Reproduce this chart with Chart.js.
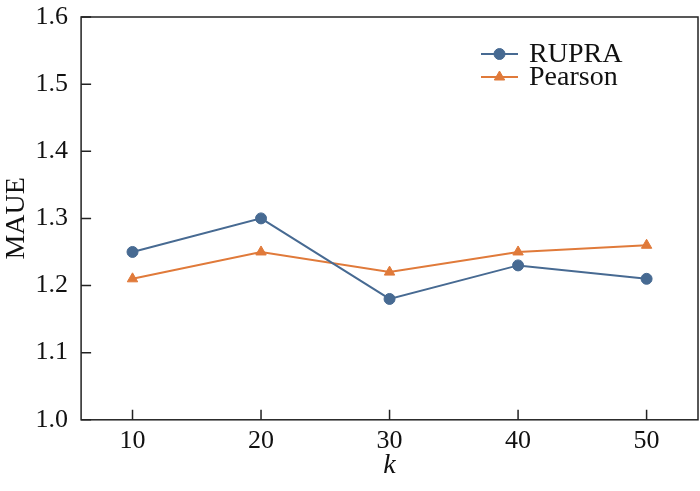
<!DOCTYPE html>
<html>
<head>
<meta charset="utf-8">
<script src="https://cdn.jsdelivr.net/npm/chart.js@4.4.1/dist/chart.umd.min.js"></script>
<style>
	html, body { margin: 0; padding: 0; background: #fff; }
	#wrap { width: 700px; height: 491px; }
</style>
</head>
<body>
<div id="wrap"><canvas id="chart"></canvas></div>
<script>
const kValues = [10, 20, 30, 40, 50];
const rupraValues = [1.25, 1.30, 1.18, 1.23, 1.21];
const pearsonValues = [1.21, 1.25, 1.22, 1.25, 1.26];
const yTicks = [1.0, 1.1, 1.2, 1.3, 1.4, 1.5, 1.6];

const BLUE = '#476a92';
const ORANGE = '#e07a3a';
const SERIF = "'Liberation Serif', 'Times New Roman', serif";

function toPoints (values) {
	return kValues.map((k, i) => ({ x: k, y: values[i] }));
}

// box round the plot and inward tick marks
const frame = {
	id: 'frame',
	afterDraw (chart) {
		const { ctx, chartArea: a, scales } = chart;
		ctx.save();
		ctx.strokeStyle = '#222';
		ctx.lineWidth = 1.5;
		ctx.strokeRect(a.left, a.top, a.right - a.left, a.bottom - a.top);
		ctx.beginPath();
		kValues.forEach(k => {
			const x = scales.x.getPixelForValue(k);
			ctx.moveTo(x, a.bottom);
			ctx.lineTo(x, a.bottom - 10);
		});
		yTicks.forEach(v => {
			const y = scales.y.getPixelForValue(v);
			ctx.moveTo(a.left, y);
			ctx.lineTo(a.left + 10, y);
		});
		ctx.stroke();
		ctx.restore();
	}
};

// legend inside the plot, upper right
const insideLegend = {
	id: 'insideLegend',
	afterDraw (chart) {
		const { ctx } = chart;
		const x0 = 481, x1 = 518, tx = 529;
		let y = 54;
		ctx.save();
		chart.data.datasets.forEach(ds => {
			ctx.strokeStyle = ds.borderColor;
			ctx.fillStyle = ds.backgroundColor;
			ctx.lineWidth = 2;
			ctx.beginPath();
			ctx.moveTo(x0, y);
			ctx.lineTo(x1, y);
			ctx.stroke();
			ctx.lineWidth = 1;
			Chart.helpers.drawPoint(ctx, {
				pointStyle: ds.pointStyle,
				radius: ds.pointRadius,
				borderWidth: 1
			}, (x0 + x1) / 2, y);
			ctx.fillStyle = '#111';
			ctx.font = `28px ${SERIF}`;
			ctx.textBaseline = 'middle';
			ctx.fillText(ds.label, tx, y + 1);
			y += 23;
		});
		ctx.restore();
	}
};

const config = {
	type: 'line',
	data: {
		datasets: [
			{
				label: 'RUPRA',
				data: toPoints(rupraValues),
				borderColor: BLUE,
				backgroundColor: BLUE,
				borderWidth: 2,
				pointStyle: 'circle',
				pointRadius: 5.5,
				pointBorderWidth: 1
			},
			{
				label: 'Pearson',
				data: toPoints(pearsonValues),
				borderColor: ORANGE,
				backgroundColor: ORANGE,
				borderWidth: 2,
				pointStyle: 'triangle',
				pointRadius: 6,
				pointBorderWidth: 1
			}
		]
	},
	options: {
		responsive: true,
		maintainAspectRatio: false,
		animation: false,
		layout: { padding: 0, autoPadding: false },
		plugins: {
			legend: { display: false },
			tooltip: { enabled: false }
		},
		scales: {
			x: {
				type: 'linear',
				min: 6,
				max: 54,
				afterBuildTicks: scale => {
					scale.ticks = kValues.map(v => ({ value: v }));
				},
				afterFit: scale => {
					scale.paddingLeft = 0;
					scale.paddingRight = 2;
				},
				grid: { display: false, drawTicks: false },
				border: { display: false },
				ticks: {
					color: '#111',
					padding: 6,
					font: { family: SERIF, size: 26 }
				},
				title: {
					display: true,
					text: 'k',
					color: '#111',
					padding: { top: -11, bottom: 11 },
					font: { family: SERIF, size: 28, style: 'italic', lineHeight: 1 }
				}
			},
			y: {
				min: 1.0,
				max: 1.6,
				afterBuildTicks: scale => {
					scale.ticks = yTicks.map(v => ({ value: v }));
				},
				afterFit: scale => {
					scale.paddingTop = 17;
					scale.paddingBottom = 0;
				},
				grid: { display: false, drawTicks: false },
				border: { display: false },
				ticks: {
					color: '#111',
					padding: 13,
					font: { family: SERIF, size: 26 },
					callback: v => v.toFixed(1)
				},
				title: {
					display: true,
					text: 'MAUE',
					color: '#111',
					padding: { top: 0, bottom: -11 },
					font: { family: SERIF, size: 28 }
				}
			}
		}
	},
	plugins: [frame, insideLegend]
};

new Chart(document.getElementById('chart'), config);
</script>
</body>
</html>
